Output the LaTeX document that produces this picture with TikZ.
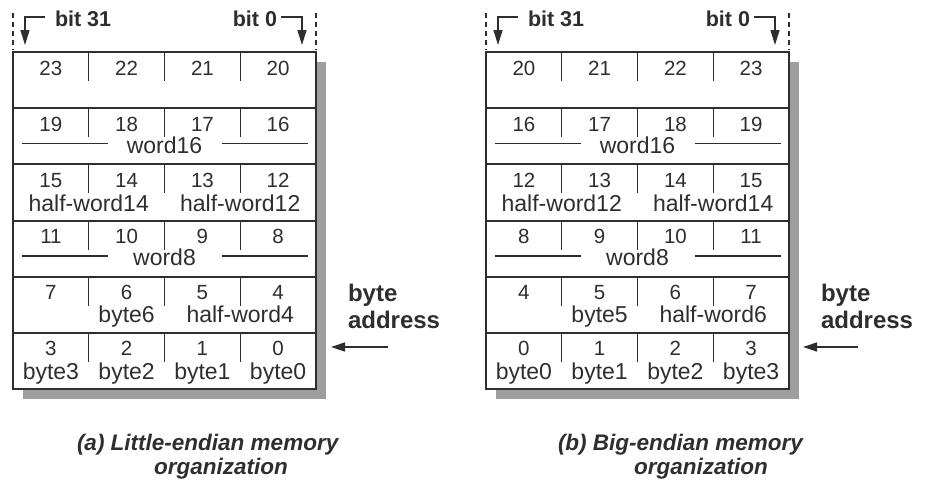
\documentclass[tikz,border=0pt]{standalone}
\usepackage{fontspec}
\setmainfont{Liberation Sans}
\usetikzlibrary{arrows.meta}
\definecolor{ink}{HTML}{2E2E2E}
\definecolor{shadowgray}{HTML}{9E9E9E}
% one row of byte numbers with its three short dividers
\newcommand\memrow[6]{%
  \draw[tickln] (88.75,#2) -- ++(0,29) (164.5,#2) -- ++(0,29) (240.25,#2) -- ++(0,29);
  \node[num] (#1a) at (50.9,#2+23) {#3};
  \node[num] (#1b) at (126.6,#2+23) {#4};
  \node[num] (#1c) at (202.4,#2+23) {#5};
  \node[num] (#1d) at (278.1,#2+23) {#6};}
% a word label with its two rules
\newcommand\wordlab[3]{%
  \node[lab] (#1) at (164.5,#2+45) {#3};
  \draw[wline] (22,#2+35.5) -- (108,#2+35.5) (222,#2+35.5) -- (308,#2+35.5);}
\newcommand\memframe{%
  \fill[shadowgray] (23,62) rectangle (326,399);
  \fill[white] (13,52) rectangle (316,389);
  \foreach \yy in {108.2,164.3,220.5,276.7,332.8} \draw[frame] (13,\yy) -- (316,\yy);
  \draw[frame] (13,52) rectangle (316,389);
  \draw[dashln] (13,13) -- (13,50) (316,13) -- (316,50);}
\begin{document}
\begin{tikzpicture}[x=1pt,y=-1pt,
  every node/.style={inner sep=0pt, outer sep=0pt, text=ink},
  num/.style={font=\fontsize{20.5}{20.5}\selectfont, anchor=base},
  lab/.style={font=\fontsize{23}{23}\selectfont, anchor=base},
  bitlab/.style={font=\fontsize{21.5}{21.5}\selectfont\bfseries},
  addrlab/.style={font=\fontsize{24}{27}\selectfont\bfseries, align=left, anchor=north west},
  caplab/.style={font=\fontsize{22.5}{22.5}\selectfont\bfseries\itshape},
  frame/.style={draw=ink, line width=2pt},
  tickln/.style={draw=ink, line width=1.3pt},
  wline/.style={draw=ink, line width=1.2pt},
  dashln/.style={draw=ink, line width=2pt, dash pattern=on 5pt off 4pt},
  bitarrow/.style={draw=ink, line width=1.4pt, -{Triangle[length=15pt,width=9pt]}},
  addrarrow/.style={draw=ink, line width=1.4pt, -{Triangle[length=14pt,width=9pt]}}]
\useasboundingbox (0,0) rectangle (927,482);

% ---------------- (a) little-endian ----------------
\begin{scope}
  \memframe
  \memrow{ar0}{52}{23}{22}{21}{20}
  \memrow{ar1}{108.2}{19}{18}{17}{16}
  \wordlab{aw16}{108.2}{word16}
  \memrow{ar2}{164.3}{15}{14}{13}{12}
  \node[lab] (ah14) at (88.75,164.3+47) {half-word14};
  \node[lab] (ah12) at (240.25,164.3+47) {half-word12};
  \memrow{ar3}{220.5}{11}{10}{9}{8}
  \wordlab{aw8}{220.5}{word8}
  \memrow{ar4}{276.7}{7}{6}{5}{4}
  \node[lab] (ab6) at (126.6,276.7+46) {byte6};
  \node[lab] (ah4) at (240.25,276.7+46) {half-word4};
  \memrow{ar5}{332.8}{3}{2}{1}{0}
  \node[lab] (ab3) at (50.9,332.8+47) {byte3};
  \node[lab] (ab2) at (126.6,332.8+47) {byte2};
  \node[lab] (ab1) at (202.4,332.8+47) {byte1};
  \node[lab] (ab0) at (278.1,332.8+47) {byte0};
  % bit labels
  \node[bitlab, anchor=base west] (abit31) at (55,26) {bit 31};
  \coordinate (abit31tip) at (25,45);
  \draw[bitarrow] ([xshift=-10pt,yshift=1.5pt]abit31.west) -| (abit31tip);
  \node[bitlab, anchor=base east] (abit0) at (277,26) {bit 0};
  \coordinate (abit0tip) at (302,45);
  \draw[bitarrow] ([xshift=4pt,yshift=1.5pt]abit0.east) -| (abit0tip);
  % byte address
  \node[addrlab] (aaddr) at (348,284) {byte\\address};
  \coordinate (aarrs) at (388,347);
  \coordinate (aarre) at (331,347);
  \draw[addrarrow] (aarrs) -- (aarre);
\end{scope}

% ---------------- (b) big-endian ----------------
\begin{scope}[shift={(473,0)}]
  \memframe
  \memrow{br0}{52}{20}{21}{22}{23}
  \memrow{br1}{108.2}{16}{17}{18}{19}
  \wordlab{bw16}{108.2}{word16}
  \memrow{br2}{164.3}{12}{13}{14}{15}
  \node[lab] (bh12) at (88.75,164.3+47) {half-word12};
  \node[lab] (bh14) at (240.25,164.3+47) {half-word14};
  \memrow{br3}{220.5}{8}{9}{10}{11}
  \wordlab{bw8}{220.5}{word8}
  \memrow{br4}{276.7}{4}{5}{6}{7}
  \node[lab] (bb5) at (126.6,276.7+46) {byte5};
  \node[lab] (bh6) at (240.25,276.7+46) {half-word6};
  \memrow{br5}{332.8}{0}{1}{2}{3}
  \node[lab] (bb0) at (50.9,332.8+47) {byte0};
  \node[lab] (bb1) at (126.6,332.8+47) {byte1};
  \node[lab] (bb2) at (202.4,332.8+47) {byte2};
  \node[lab] (bb3) at (278.1,332.8+47) {byte3};
  % bit labels
  \node[bitlab, anchor=base west] (bbit31) at (55,26) {bit 31};
  \coordinate (bbit31tip) at (25,45);
  \draw[bitarrow] ([xshift=-10pt,yshift=1.5pt]bbit31.west) -| (bbit31tip);
  \node[bitlab, anchor=base east] (bbit0) at (277,26) {bit 0};
  \coordinate (bbit0tip) at (302,45);
  \draw[bitarrow] ([xshift=4pt,yshift=1.5pt]bbit0.east) -| (bbit0tip);
  % byte address
  \node[addrlab] (baddr) at (348,284) {byte\\address};
  \coordinate (barrs) at (385,347);
  \coordinate (barre) at (330,347);
  \draw[addrarrow] (barrs) -- (barre);
\end{scope}

% ---------------- captions ----------------
\node[caplab, anchor=base west] (capa1) at (77,450) {(a) Little-endian memory};
\node[caplab, anchor=base] (capa2) at (221,474) {organization};
\node[caplab, anchor=base west] (capb1) at (558,450) {(b) Big-endian memory};
\node[caplab, anchor=base] (capb2) at (701,474) {organization};
\end{tikzpicture}
\end{document}
